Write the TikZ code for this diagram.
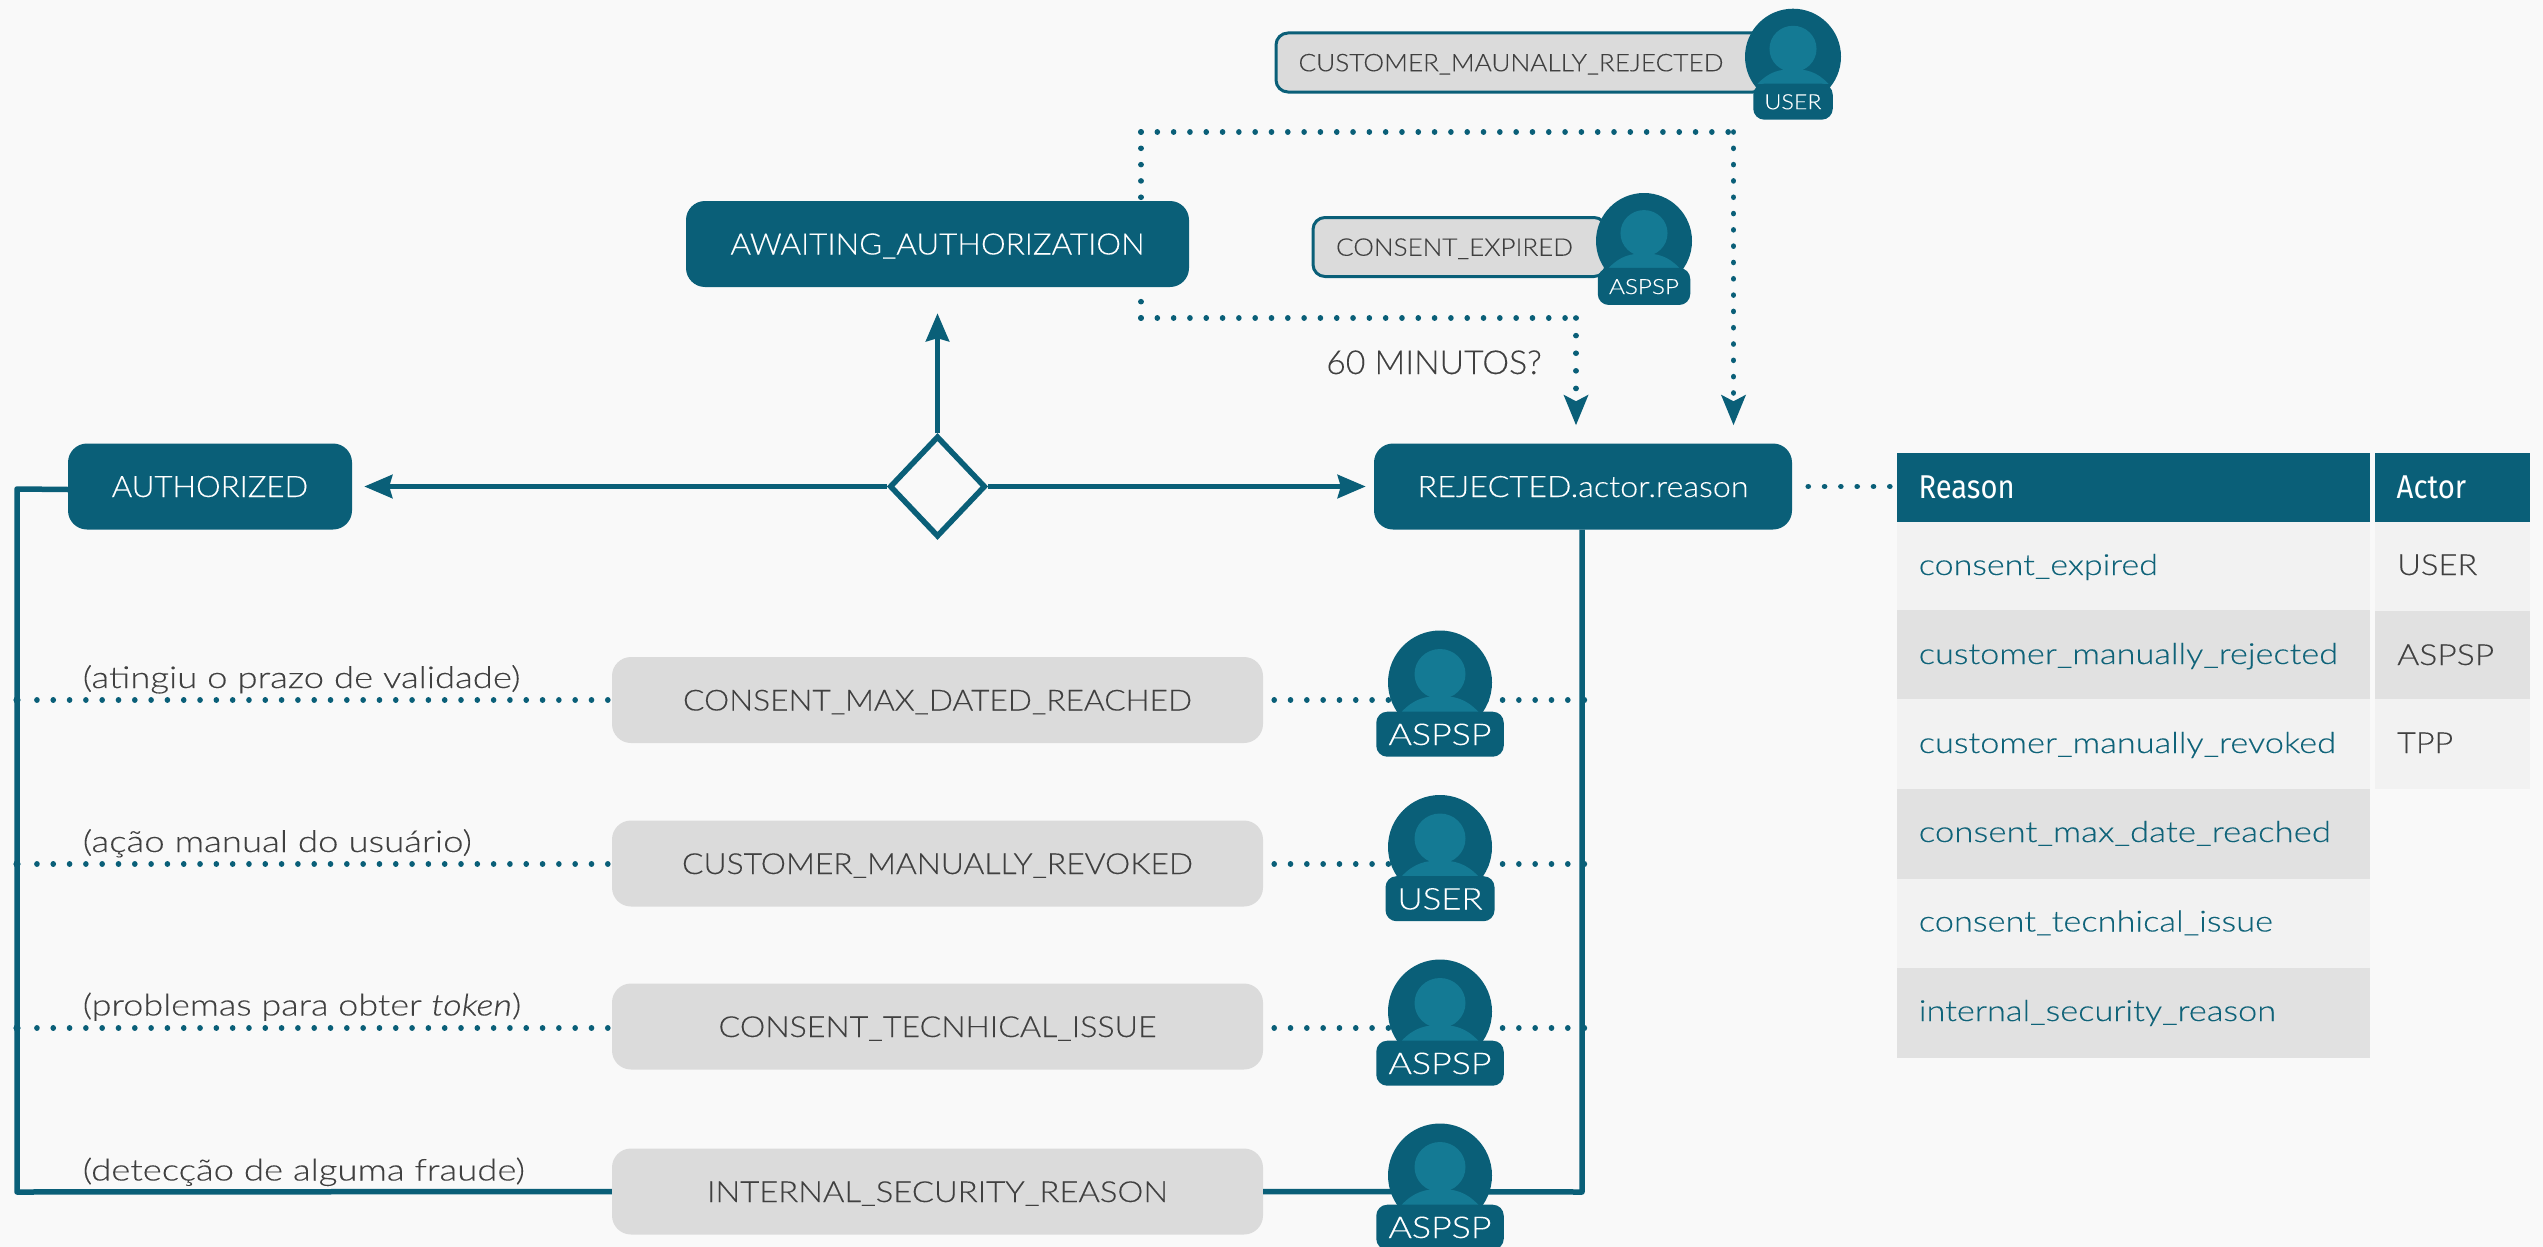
\documentclass[tikz,border=0pt]{standalone}
\usepackage{fontspec}
\usepackage{graphicx}
\setmainfont{Lato Light}[ItalicFont={Lato Light Italic},FakeBold=0.2,ItalicFeatures={FakeBold=0.2}]
\newfontfamily\hdfont{Fira Sans}
\usetikzlibrary{arrows.meta,shapes.geometric}
\definecolor{teal}{HTML}{0A5F78}
\definecolor{tealL}{HTML}{147A94}
\definecolor{bgc}{HTML}{F9F9F9}
\definecolor{greyB}{HTML}{DBDBDB}
\definecolor{ink}{HTML}{404040}
\definecolor{rowA}{HTML}{F2F2F2}
\definecolor{rowB}{HTML}{E1E1E1}
\definecolor{link}{HTML}{0F6379}
\newcommand\tx[3]{{\fontsize{#1pt}{#1pt}\selectfont\resizebox{#2pt}{\height}{#3}}}
\tikzset{
  solidln/.style={draw=teal,line width=5.5pt},
  dots/.style={draw=teal,line width=5.6pt,line cap=round,dash pattern=on 0.01pt off 16.3pt},
  dotsarrow/.style={draw=teal,line width=5.6pt,line cap=round,dash pattern=on 0.01pt off 16.3pt,
     -{Stealth[length=30pt,width=24pt,inset=6pt,line cap=butt]},shorten >=18pt},
  arrowln/.style={solidln,-{Stealth[length=28pt,width=23pt,inset=3pt]}},
  statebox/.style={rectangle,rounded corners=19pt,fill=teal,text=white,inner sep=0pt,minimum height=86pt,text height=21pt,text depth=0pt},
  greybox/.style={rectangle,rounded corners=19pt,fill=greyB,text=ink,inner sep=0pt,minimum width=651pt,minimum height=86pt,text height=21pt,text depth=0pt},
  smallbox/.style={rectangle,rounded corners=12pt,fill=greyB,draw=teal,line width=3pt,text=ink,inner sep=0pt,minimum height=59pt,text height=17.5pt,text depth=0pt},
  badge/.style={rectangle,rounded corners=11pt,fill=teal,text=white,inner sep=0pt,anchor=north},
  cellA/.style={rectangle,fill=rowA,inner sep=0pt,anchor=north west},
  cellB/.style={rectangle,fill=rowB,inner sep=0pt,anchor=north west},
  cellH/.style={rectangle,fill=teal,inner sep=0pt,anchor=north west},
  celltext/.style={anchor=base west,inner sep=0pt,text=link},
  acttext/.style={anchor=base west,inner sep=0pt,text=ink},
  hdtext/.style={anchor=base west,inner sep=0pt,text=white},
  note/.style={anchor=base west,inner sep=0pt,text=ink},
}
% name, x, y of circle centre, scale, badge width, badge height, font size, text width, text
\newcommand\avatar[9]{%
  \begin{scope}[shift={(#2,#3)},scale=#4]
    \fill[teal] (0,0) circle[radius=52];
    \fill[tealL] (0,-8.5) ellipse[x radius=25.5,y radius=25];
    \fill[tealL] (-38.5,29.5) .. controls (-26,16) and (-14,13.5) .. (0,13.5) .. controls (14,13.5) and (26,16) .. (38.5,29.5) -- cycle;
    \node[badge,minimum width=#5pt,minimum height=#6pt,text height=0.72*#7pt,text depth=0pt] (#1) at (0,29) {\tx{#7}{#8}{#9}};
  \end{scope}}
\begin{document}
\begin{tikzpicture}[x=1pt,y=-1pt]
\useasboundingbox (0,0) rectangle (2543,1247);
\fill[bgc] (0,0) rectangle (2543,1247);

% state nodes
\node[statebox,minimum width=503pt] (aw) at (937.5,244) {\tx{29.5}{414}{AWAITING\_AUTHORIZATION}};
\node[statebox,minimum width=284pt] (auth) at (210,486.5) {\tx{29.5}{196.4}{AUTHORIZED}};
\node[statebox,minimum width=418pt] (rej) at (1583,486.5) {\tx{29.5}{331}{REJECTED.actor.reason}};
\node[diamond,draw=teal,line width=5.5pt,fill=bgc,inner sep=0pt,aspect=0.95,minimum width=96pt,minimum height=101pt] (dec) at (937.5,486.5) {};

% grey reason boxes
\node[greybox] (b1) at (937.5,700) {\tx{29}{509}{CONSENT\_MAX\_DATED\_REACHED}};
\node[greybox] (b2) at (937.5,863.5) {\tx{29}{511}{CUSTOMER\_MANUALLY\_REVOKED}};
\node[greybox] (b3) at (937.5,1026.5) {\tx{29}{438}{CONSENT\_TECNHICAL\_ISSUE}};
\node[greybox] (b4) at (937.5,1191.5) {\tx{29}{461}{INTERNAL\_SECURITY\_REASON}};

% coordinates
\coordinate (c1) at (1141,132);
\coordinate (c2) at (1733.5,132);
\coordinate (c3) at (1141,318);
\coordinate (c4) at (1576,318);
\coordinate (cl1) at (17,489);
\coordinate (cl2) at (17,1192);
\coordinate (cr) at (1582,1192);

% solid connectors
\draw[arrowln,shorten >=12pt] (dec.west) -- (auth.east);
\draw[arrowln,shorten >=8pt] (dec.east) -- (rej.west);
\draw[arrowln,shorten >=26pt] (dec.north) -- (aw.south);
\draw[solidln,line join=round] ([yshift=-3pt]auth.west) -- (cl1) -- (cl2) -- (b4.west);
\draw[solidln,line join=round] (rej.south -| cr) -- (cr) -- (b4.east);

% dotted connectors
\draw[dots] (c1) -- (c1 |- aw.north);
\draw[dots] (c1) -- (c2);
\draw[dotsarrow] (c2) -- (c2 |- rej.north);
\draw[dots] (c3) -- (c3 |- aw.south);
\draw[dots] (c3) -- (c4);
\draw[dotsarrow,dash pattern=on 0.01pt off 17.6pt] (c4) -- (c4 |- rej.north);

\foreach \b/\yy in {b1/700,b2/864,b3/1028}{
  \coordinate (lf) at (35,\yy);
  \coordinate (rt) at (1572,\yy);
  \draw[dots,shorten <=4pt] (\b.west |- lf) -- (lf);
  \draw[dots,shorten <=11pt] (\b.east |- rt) -- (rt);
  \fill[teal] (17,\yy) circle[radius=3.6];
  \fill[teal] (1584,\yy) circle[radius=3.2];
}

% small state boxes
\node[smallbox,minimum width=489pt] (sb1) at (1520.5,62.5) {\tx{24.3}{425}{CUSTOMER\_MAUNALLY\_REJECTED}\hspace*{19pt}};
\node[smallbox,minimum width=293pt] (sb2) at (1459.5,247) {\tx{24.3}{237}{CONSENT\_EXPIRED}\hspace*{10pt}};

% avatars
\avatar{us}{1793}{56.7}{0.923}{79.5}{36}{21}{57}{USER}
\avatar{as}{1644}{241}{0.923}{92.5}{37}{21}{70}{ASPSP}
\avatar{a1}{1440}{682.5}{1}{127.5}{45}{30}{103}{ASPSP}
\avatar{a2}{1440}{847}{1}{109}{45}{30}{85}{USER}
\avatar{a3}{1440}{1011.5}{1}{127.5}{45}{30}{103}{ASPSP}
\avatar{a4}{1440}{1175.5}{1}{127.5}{45}{30}{103}{ASPSP}

% labels
\node[text=ink,anchor=base west,inner sep=0pt] (min) at (1326,374) {\tx{33}{215.5}{60 MINUTOS?}};
\node[note] (n1) at (82.6,688) {\tx{30}{437.5}{(atingiu o prazo de validade)}};
\node[note] (n2) at (82.6,852) {\tx{30}{389}{(ação manual do usuário)}};
\node[note] (n3) at (82.6,1015.5) {\tx{30}{438.5}{(problemas para obter {\itshape token})}};
\node[note] (n4) at (82.6,1180.5) {\tx{30}{442}{(detecção de alguma fraude)}};

% table: reason column
\node[cellH,minimum width=473.2pt,minimum height=69pt] (th) at (1896.8,453) {};
\node[cellA,minimum width=473.2pt,minimum height=88pt] (r1) at (1896.8,522) {};
\node[cellB,minimum width=473.2pt,minimum height=89pt] (r2) at (1896.8,610) {};
\node[cellA,minimum width=473.2pt,minimum height=90pt] (r3) at (1896.8,699) {};
\node[cellB,minimum width=473.2pt,minimum height=90pt] (r4) at (1896.8,789) {};
\node[cellA,minimum width=473.2pt,minimum height=89pt] (r5) at (1896.8,879) {};
\node[cellB,minimum width=473.2pt,minimum height=90pt] (r6) at (1896.8,968) {};
% table: actor column
\node[cellH,minimum width=155pt,minimum height=69pt] (ah) at (2375,453) {};
\node[cellA,minimum width=155pt,minimum height=89pt] (s1) at (2375,522) {};
\node[cellB,minimum width=155pt,minimum height=88pt] (s2) at (2375,611) {};
\node[cellA,minimum width=155pt,minimum height=90pt] (s3) at (2375,699) {};

\draw[dots,shorten <=7pt] (th.west |- rej.east) -- (rej.east);

\node[hdtext] (t0) at (1918.4,498.5) {\hdfont\tx{33}{96}{Reason}};
\node[hdtext] (u0) at (2396.5,498.5) {\hdfont\tx{33}{69.5}{Actor}};
\node[celltext] (t1) at (1918.6,575) {\tx{29}{239}{consent\_expired}};
\node[celltext] (t2) at (1918.6,664) {\tx{29}{419}{customer\_manually\_rejected}};
\node[celltext] (t3) at (1918.6,753) {\tx{29}{417}{customer\_manually\_revoked}};
\node[celltext] (t4) at (1918.6,842) {\tx{29}{412}{consent\_max\_date\_reached}};
\node[celltext] (t5) at (1918.6,931.5) {\tx{29}{354}{consent\_tecnhical\_issue}};
\node[celltext] (t6) at (1918.6,1021) {\tx{29}{357}{internal\_security\_reason}};
\node[acttext] (u1) at (2397,575) {\tx{29}{80}{USER}};
\node[acttext] (u2) at (2397,665) {\tx{29}{97}{ASPSP}};
\node[acttext] (u3) at (2397,753) {\tx{29}{56}{TPP}};
\end{tikzpicture}
\end{document}
